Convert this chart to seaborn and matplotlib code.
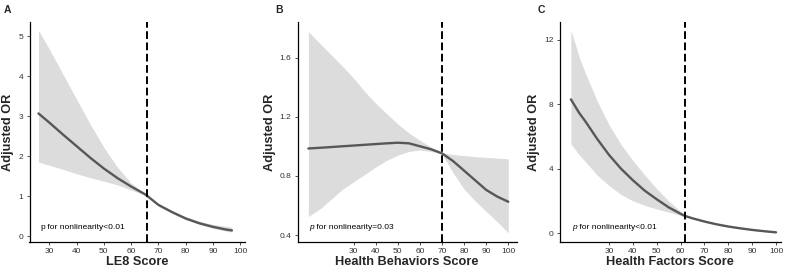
import numpy as np
import pandas as pd
import matplotlib
matplotlib.use("Agg")
import matplotlib.pyplot as plt
import seaborn as sns

# Panel A: LE8 score
le8_x = [26, 30, 35, 40, 45, 50, 55, 60, 65, 66, 70, 75, 80, 85, 90, 95, 97]
le8_or = [3.07, 2.84, 2.54, 2.25, 1.96, 1.69, 1.45, 1.24, 1.05, 1.0, 0.78, 0.60, 0.44, 0.32, 0.23, 0.16, 0.14]
le8_hi = [5.15, 4.68, 4.05, 3.42, 2.80, 2.22, 1.72, 1.33, 1.06, 1.0, 0.81, 0.63, 0.48, 0.37, 0.29, 0.24, 0.22]
le8_lo = [1.85, 1.77, 1.67, 1.56, 1.46, 1.37, 1.28, 1.15, 1.03, 1.0, 0.75, 0.57, 0.41, 0.29, 0.19, 0.12, 0.10]

# Panel B: health behaviors score
hb_x = [9.5, 15, 20, 25, 30, 35, 40, 45, 50, 55, 60, 65, 70, 75, 80, 85, 90, 95, 100]
hb_or = [0.985, 0.99, 0.995, 1.0, 1.005, 1.01, 1.015, 1.02, 1.024, 1.02, 1.0, 0.98, 0.952, 0.90, 0.835, 0.77, 0.705, 0.66, 0.625]
hb_hi = [1.775, 1.69, 1.615, 1.54, 1.46, 1.37, 1.29, 1.22, 1.15, 1.09, 1.04, 0.995, 0.955, 0.945, 0.937, 0.93, 0.925, 0.92, 0.915]
hb_lo = [0.525, 0.58, 0.645, 0.71, 0.76, 0.81, 0.86, 0.905, 0.94, 0.965, 0.975, 0.965, 0.948, 0.82, 0.71, 0.63, 0.56, 0.49, 0.415]

# Panel C: health factors score
hf_x = [14, 17.5, 20, 25, 30, 35, 40, 45, 50, 55, 60, 62, 65, 70, 75, 80, 85, 90, 95, 100]
hf_or = [8.3, 7.45, 6.95, 5.85, 4.85, 4.0, 3.28, 2.63, 2.1, 1.6, 1.2, 1.06, 0.92, 0.72, 0.55, 0.41, 0.30, 0.20, 0.12, 0.05]
hf_hi = [12.6, 10.9, 9.95, 8.2, 6.72, 5.5, 4.5, 3.6, 2.75, 2.0, 1.35, 1.1, 0.95, 0.76, 0.59, 0.45, 0.33, 0.23, 0.15, 0.09]
hf_lo = [5.55, 4.85, 4.45, 3.6, 2.95, 2.4, 2.0, 1.72, 1.5, 1.3, 1.1, 1.0, 0.88, 0.68, 0.52, 0.38, 0.27, 0.17, 0.10, 0.02]

sns.set_style("ticks")
plt.rcParams["font.family"] = ["Liberation Sans", "DejaVu Sans"]

W, H = 786, 268
fig = plt.figure(figsize=(W / 100, H / 100), dpi=100)

panels = [
    dict(letter="A", x=le8_x, y=le8_or, hi=le8_hi, lo=le8_lo, ref=66,
         left=29.5, right=245, xlim=(22.7, 101.8), ylim=(-0.15, 5.36),
         yticks=[0, 1, 2, 3, 4, 5], ylabels=["0", "1", "2", "3", "4", "5"],
         xlabel="LE8 Score", note=("p", " for nonlinearity<0.01"), italic=False,
         note_x=40, letter_x=4),
    dict(letter="B", x=hb_x, y=hb_or, hi=hb_hi, lo=hb_lo, ref=70,
         left=297.7, right=516.7, xlim=(4.65, 103.8), ylim=(0.353, 1.84),
         yticks=[0.4, 0.8, 1.2, 1.6], ylabels=["0.4", "0.8", "1.2", "1.6"],
         xlabel="Health Behaviors Score", note=("p", " for nonlinearity=0.03"), italic=True,
         note_x=309.7, letter_x=275),
    dict(letter="C", x=hf_x, y=hf_or, hi=hf_hi, lo=hf_lo, ref=62,
         left=559.7, right=781, xlim=(9.3, 102.1), ylim=(-0.55, 13.1),
         yticks=[0, 4, 8, 12], ylabels=["0", "4", "8", "12"],
         xlabel="Health Factors Score", note=("p", " for nonlinearity<0.01"), italic=True,
         note_x=572, letter_x=538),
]

top, bottom = 22, 242
for p in panels:
    ax = fig.add_axes([p["left"] / W, (H - bottom) / H,
                       (p["right"] - p["left"]) / W, (bottom - top) / H])
    ax.fill_between(p["x"], p["lo"], p["hi"], color="#DCDCDC", lw=0, zorder=1)
    df = pd.DataFrame({"score": p["x"], "OR": p["y"]})
    sns.lineplot(data=df, x="score", y="OR", ax=ax, color="#575757",
                 lw=1.7, zorder=3)
    ax.axvline(p["ref"], color="black", lw=1.4, ls=(0, (4, 1.8)), zorder=4)
    ax.set_xlim(*p["xlim"])
    ax.set_ylim(*p["ylim"])
    ax.set_xticks(range(30, 101, 10))
    ax.set_yticks(p["yticks"])
    ax.set_yticklabels(p["ylabels"])
    ax.tick_params(labelsize=6, length=2.5, width=0.6, colors="#333333",
                   labelcolor="#333333", pad=2)
    for s in ["top", "right"]:
        ax.spines[s].set_visible(False)
    for s in ["left", "bottom"]:
        ax.spines[s].set_linewidth(0.9)
        ax.spines[s].set_color("black")
    ax.set_xlabel(p["xlabel"], fontsize=9.2, fontweight="bold", labelpad=0.5)
    ax.set_ylabel("Adjusted OR", fontsize=9.2, fontweight="bold", labelpad=3)
    ax.grid(False)
    # nonlinearity note
    nx = (p["note_x"] - p["left"]) / (p["right"] - p["left"])
    ny = (bottom - 229) / (bottom - top)
    t1 = ax.text(nx, ny, p["note"][0], transform=ax.transAxes, fontsize=6,
                 style="italic" if p["italic"] else "normal", color="black")
    fig.canvas.draw()
    bb = t1.get_window_extent()
    inv = ax.transAxes.inverted()
    x_end = inv.transform((bb.x1, bb.y0))[0]
    ax.text(x_end, ny, p["note"][1], transform=ax.transAxes, fontsize=6,
            color="black")
    fig.text(p["letter_x"] / W, (H - 13) / H, p["letter"], fontsize=7.5,
             fontweight="bold")

fig.savefig("out.png", dpi=100)
